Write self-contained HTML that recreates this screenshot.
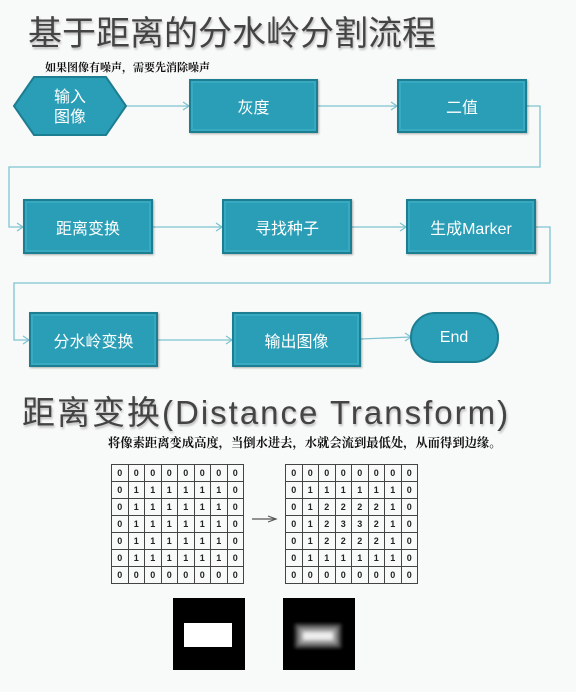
<!DOCTYPE html>
<html><head><meta charset="utf-8"><style>
body{margin:0;width:576px;height:692px;background:#f8faf9;position:relative;overflow:hidden;font-family:"Liberation Sans","Noto Sans CJK SC",sans-serif}
.t{position:absolute;white-space:nowrap}
.box{position:absolute;background:#2a9eb6;border:2px solid #1d7d91;box-shadow:inset 0 0 0 2px #37a9c0,1px 1px 2px rgba(0,0,0,.3);color:#fff;font-size:16px;display:flex;align-items:center;justify-content:center;box-sizing:border-box}
table{position:absolute;border-collapse:collapse;width:133px;height:116px;font-size:9px;font-weight:bold;color:#222}
td{border:1px solid #444;text-align:center;padding:0;width:16px;height:16px}
</style></head><body>
<div class="t" style="left:28px;top:6px;font-size:34px;color:#444;text-shadow:1px 2px 2px #bbb">基于距离的分水岭分割流程</div>
<div class="t" style="left:45px;top:59px;font-size:11px;font-weight:bold;color:#111;font-family:'Noto Serif CJK SC',serif">如果图像有噪声，需要先消除噪声</div>

<svg style="position:absolute;left:0;top:0" width="576" height="692">
<defs><filter id="b"><feGaussianBlur stdDeviation="1.8"/></filter></defs>
<g fill="none" stroke="#7fc3d1" stroke-width="1.3">
<polyline points="126,106 189,106"/><polyline points="183,102 189,106 183,110"/>
<polyline points="318,106 397,106"/><polyline points="391,102 397,106 391,110"/>
<polyline points="527,106 540,106 540,167 9,167 9,227 23,227"/><polyline points="17,223 23,227 17,231"/>
<polyline points="153,227 222,227"/><polyline points="216,223 222,227 216,231"/>
<polyline points="352,227 406,227"/><polyline points="400,223 406,227 400,231"/>
<polyline points="536,227 550,227 550,283 14,283 14,340 29,340"/><polyline points="23,336 29,340 23,344"/>
<polyline points="158,340 232,340"/><polyline points="226,336 232,340 226,344"/>
<polyline points="361,339 411,337"/><polyline points="405,333 411,337 405,341"/>
</g>
<polygon points="14,106 34,77 106,77 126,106 106,135 34,135" fill="#2a9eb6" stroke="#1d7d91" stroke-width="2"/>
<text x="70" y="102" fill="#fff" font-size="16" text-anchor="middle">输入</text>
<text x="70" y="122" fill="#fff" font-size="16" text-anchor="middle">图像</text>
<rect x="411" y="313" width="87" height="49" rx="24" fill="#2a9eb6" stroke="#1d7d91" stroke-width="2"/>
<text x="454" y="342" fill="#fff" font-size="16" text-anchor="middle">End</text>
<g stroke="#555" stroke-width="1.2" fill="none"><line x1="252" y1="519" x2="276" y2="519"/><polyline points="268,516 276,519 268,522"/></g>
<rect x="173" y="598" width="72" height="72" fill="#000"/>
<rect x="184" y="623" width="48" height="24" fill="#fff"/>
<rect x="283" y="598" width="72" height="72" fill="#000"/>
<g filter="url(#b)">
<rect x="295" y="624" width="46" height="24" fill="#555"/>
<rect x="299" y="628" width="38" height="16" fill="#999"/>
<rect x="303" y="632" width="30" height="8" fill="#eee"/>
</g>
</svg>

<div class="box" style="left:189px;top:79px;width:129px;height:54px">灰度</div>
<div class="box" style="left:397px;top:79px;width:130px;height:54px">二值</div>
<div class="box" style="left:23px;top:199px;width:130px;height:55px">距离变换</div>
<div class="box" style="left:222px;top:199px;width:130px;height:55px">寻找种子</div>
<div class="box" style="left:406px;top:199px;width:130px;height:55px">生成Marker</div>
<div class="box" style="left:29px;top:312px;width:129px;height:55px">分水岭变换</div>
<div class="box" style="left:232px;top:312px;width:129px;height:55px">输出图像</div>

<div class="t" style="left:22px;top:386px;font-size:33px;letter-spacing:2px;color:#444;text-shadow:1px 2px 2px #bbb">距离变换(Distance Transform)</div>
<div class="t" style="left:108px;top:433px;font-size:12.3px;font-weight:bold;color:#111;font-family:'Noto Serif CJK SC',serif">将像素距离变成高度，当倒水进去，水就会流到最低处，从而得到边缘。</div>

<table style="left:111px;top:464px">
<tr><td>0</td><td>0</td><td>0</td><td>0</td><td>0</td><td>0</td><td>0</td><td>0</td></tr>
<tr><td>0</td><td>1</td><td>1</td><td>1</td><td>1</td><td>1</td><td>1</td><td>0</td></tr>
<tr><td>0</td><td>1</td><td>1</td><td>1</td><td>1</td><td>1</td><td>1</td><td>0</td></tr>
<tr><td>0</td><td>1</td><td>1</td><td>1</td><td>1</td><td>1</td><td>1</td><td>0</td></tr>
<tr><td>0</td><td>1</td><td>1</td><td>1</td><td>1</td><td>1</td><td>1</td><td>0</td></tr>
<tr><td>0</td><td>1</td><td>1</td><td>1</td><td>1</td><td>1</td><td>1</td><td>0</td></tr>
<tr><td>0</td><td>0</td><td>0</td><td>0</td><td>0</td><td>0</td><td>0</td><td>0</td></tr>
</table>
<table style="left:285px;top:464px">
<tr><td>0</td><td>0</td><td>0</td><td>0</td><td>0</td><td>0</td><td>0</td><td>0</td></tr>
<tr><td>0</td><td>1</td><td>1</td><td>1</td><td>1</td><td>1</td><td>1</td><td>0</td></tr>
<tr><td>0</td><td>1</td><td>2</td><td>2</td><td>2</td><td>2</td><td>1</td><td>0</td></tr>
<tr><td>0</td><td>1</td><td>2</td><td>3</td><td>3</td><td>2</td><td>1</td><td>0</td></tr>
<tr><td>0</td><td>1</td><td>2</td><td>2</td><td>2</td><td>2</td><td>1</td><td>0</td></tr>
<tr><td>0</td><td>1</td><td>1</td><td>1</td><td>1</td><td>1</td><td>1</td><td>0</td></tr>
<tr><td>0</td><td>0</td><td>0</td><td>0</td><td>0</td><td>0</td><td>0</td><td>0</td></tr>
</table>
</body></html>
